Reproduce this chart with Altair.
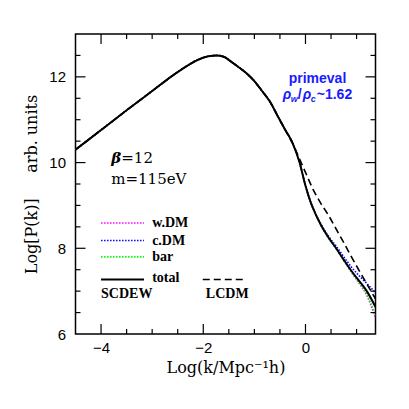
import altair as alt
import pandas as pd

# ---- data ----
k_grid = [-4.5, -4.0, -3.5, -3.0, -2.6, -2.3, -2.1, -1.9, -1.75, -1.6, -1.45, -1.3,
          -1.15, -1.0, -0.85, -0.7, -0.55, -0.4, -0.25, -0.12, 0.0, 0.1, 0.2, 0.3,
          0.45, 0.6, 0.75, 0.9, 1.05, 1.2, 1.37]
p_total = [10.30, 10.76, 11.22, 11.67, 12.03, 12.27, 12.40, 12.48, 12.50, 12.47, 12.35, 12.22,
           12.08, 11.90, 11.67, 11.43, 11.10, 10.77, 10.45, 10.02, 9.46, 9.08, 8.79, 8.55,
           8.25, 8.00, 7.73, 7.47, 7.24, 7.00, 6.63]
p_cdm = [10.30, 10.76, 11.22, 11.67, 12.03, 12.27, 12.40, 12.48, 12.50, 12.47, 12.35, 12.22,
         12.08, 11.90, 11.67, 11.43, 11.10, 10.77, 10.45, 10.02, 9.46, 9.08, 8.80, 8.57,
         8.28, 8.05, 7.80, 7.56, 7.36, 7.18, 6.96]
p_wdm = [10.30, 10.76, 11.22, 11.67, 12.03, 12.27, 12.40, 12.48, 12.50, 12.47, 12.35, 12.22,
         12.08, 11.90, 11.67, 11.43, 11.10, 10.77, 10.45, 10.02, 9.46, 9.08, 8.79, 8.54,
         8.24, 7.99, 7.71, 7.44, 7.18, 6.90, 6.37]
p_bar = [10.30, 10.76, 11.22, 11.67, 12.03, 12.27, 12.40, 12.48, 12.50, 12.47, 12.35, 12.22,
         12.08, 11.90, 11.67, 11.43, 11.10, 10.77, 10.45, 10.02, 9.46, 9.08, 8.79, 8.54,
         8.24, 7.99, 7.72, 7.45, 7.20, 6.93, 6.44]
k_lcdm = [-4.5, -4.0, -3.5, -3.0, -2.6, -2.3, -2.1, -1.9, -1.75, -1.6, -1.45, -1.3,
          -1.15, -1.0, -0.85, -0.7, -0.55, -0.4, -0.25, -0.1, 0.0, 0.15, 0.3, 0.45,
          0.6, 0.75, 0.9, 1.05, 1.2, 1.37]
p_lcdm = [10.30, 10.76, 11.22, 11.67, 12.03, 12.27, 12.40, 12.48, 12.50, 12.47, 12.35, 12.22,
          12.08, 11.90, 11.67, 11.43, 11.10, 10.77, 10.44, 10.04, 9.77, 9.37, 9.05, 8.77,
          8.45, 8.13, 7.80, 7.48, 7.17, 6.82]

x_major = [-4, -2, 0]
x_minor = [-3.5, -3, -2.5, -1.5, -1, -0.5, 0.5, 1.0]
y_major = [8, 10, 12]
y_minor = [6.5, 7, 7.5, 8.5, 9, 9.5, 10.5, 11, 11.5, 12.5]
x_labels = [-4, -2, 0]
y_labels = [6, 8, 10, 12]

legend_names = ["w.DM", "c.DM", "bar"]
legend_colors = ["#ff00ff", "#0000ff", "#00ff00"]
legend_y = [8.59, 8.18, 7.80]
legend_total_y = 7.27
legend_x = [-4.0, -3.16]
legend_text_x = -3.0
lcdm_legend_x = [-2.01, -1.16]

X_DOM = [-4.5, 1.37]
Y_DOM = [6, 13]
W, H = 300, 300

xsc = alt.Scale(domain=X_DOM, nice=False, zero=False)
ysc = alt.Scale(domain=Y_DOM, nice=False, zero=False)

XAX = alt.Axis(values=x_labels, ticks=False, tickSize=0, domain=False, grid=False,
               labelFont="Liberation Sans", labelFontSize=15, labelColor="black",
               labelPadding=6, format="d",
               title="Log(k/Mpc\u207b\u00b9h)", titleFont="DejaVu Serif", titleFontSize=16,
               titleFontWeight="normal", titleColor="black", titlePadding=4)
YAX = alt.Axis(values=y_labels, ticks=False, tickSize=0, domain=False, grid=False,
               labelFont="Liberation Sans", labelFontSize=15, labelColor="black",
               labelPadding=10, format="d",
               title="Log[P(k)]\u00a0\u00a0\u00a0\u00a0\u00a0arb. units", titleFont="DejaVu Serif",
               titleFontSize=16, titleFontWeight="normal", titleColor="black", titlePadding=9)


def X(f):
    return alt.X(f + ":Q", scale=xsc, axis=XAX)


def Y(f):
    return alt.Y(f + ":Q", scale=ysc, axis=YAX)


def curve(k, p, color, width, dash=None):
    df = pd.DataFrame({"k": k, "p": p})
    kw = dict(color=color, strokeWidth=width, clip=True, interpolate="monotone")
    if dash:
        kw["strokeDash"] = dash
    return alt.Chart(df).mark_line(**kw).encode(x=X("k"), y=Y("p"))


def text(x, y, t, **kw):
    df = pd.DataFrame({"x": [x], "y": [y], "t": [t]})
    base = dict(align="left", baseline="alphabetic", color="black")
    base.update(kw)
    return alt.Chart(df).mark_text(**base).encode(x=X("x"), y=Y("y"), text="t:N")


layers = []
DOT = [1.5, 1.5]
layers.append(curve(k_grid, p_wdm, legend_colors[0], 1.6, DOT))
layers.append(curve(k_grid, p_cdm, legend_colors[1], 1.6, DOT))
layers.append(curve(k_grid, p_bar, legend_colors[2], 1.6, DOT))
layers.append(curve(k_lcdm, p_lcdm, "black", 1.6, [7, 4]))
layers.append(curve(k_grid, p_total, "black", 2.0))

# legend
LEG_FONT = dict(font="Liberation Serif", fontSize=14, fontWeight="bold")
for name, col, yy in zip(legend_names, legend_colors, legend_y):
    layers.append(curve(legend_x, [yy, yy], col, 1.6, DOT))
    layers.append(text(legend_text_x, yy - 0.1, name, **LEG_FONT))
layers.append(curve(legend_x, [legend_total_y, legend_total_y], "black", 2.0))
layers.append(text(legend_text_x, legend_total_y - 0.05, "total", **LEG_FONT))
layers.append(curve(lcdm_legend_x, [legend_total_y, legend_total_y], "black", 1.6, [7, 4]))
layers.append(text(-4.0, 6.83, "SCDEW", **LEG_FONT))
layers.append(text(-1.95, 6.83, "LCDM", **LEG_FONT))

# annotations
layers.append(text(-3.80, 10.0, "\u03b2", font="DejaVu Serif", fontSize=15, fontStyle="italic", fontWeight="bold"))
layers.append(text(-3.80, 10.0, "=12", font="DejaVu Serif", fontSize=15, dx=10))
layers.append(text(-3.80, 9.51, "m=115eV", font="DejaVu Serif", fontSize=15))

BLUE = "#1a1aff"
PF = dict(font="Liberation Sans", fontWeight="bold", color=BLUE)
layers.append(text(0.235, 11.86, "primeval", align="center", fontSize=14, **PF))
layers.append(text(-0.445, 11.49, "\u03c1", fontSize=14, fontStyle="italic", **PF))
layers.append(text(-0.445, 11.49, "w", fontSize=9, dx=8, dy=3, fontStyle="italic", **PF))
layers.append(text(-0.445, 11.49, "/", fontSize=14, dx=15, **PF))
layers.append(text(-0.445, 11.49, "\u03c1", fontSize=14, dx=20, fontStyle="italic", **PF))
layers.append(text(-0.445, 11.49, "c", fontSize=9, dx=28, dy=3, fontStyle="italic", **PF))
layers.append(text(-0.445, 11.49, "~1.62", fontSize=14, dx=34, **PF))

# inward ticks on all four sides
def xticks(vals, length):
    df = pd.DataFrame({"v": vals})
    b = alt.Chart(df).mark_rule(color="black", strokeWidth=1.2)
    return [b.encode(x=X("v"), y=alt.value(H), y2=alt.value(H - length)),
            b.encode(x=X("v"), y=alt.value(0), y2=alt.value(length))]


def yticks(vals, length):
    df = pd.DataFrame({"v": vals})
    b = alt.Chart(df).mark_rule(color="black", strokeWidth=1.2)
    return [b.encode(y=Y("v"), x=alt.value(0), x2=alt.value(length)),
            b.encode(y=Y("v"), x=alt.value(W), x2=alt.value(W - length))]


layers += xticks(x_major, 10) + xticks(x_minor, 5) + yticks(y_major, 10) + yticks(y_minor, 5)

chart = alt.layer(*layers).properties(
    width=W, height=H,
    padding={"left": 67.5, "top": 26, "right": 20, "bottom": 60},
    autosize=alt.AutoSizeParams(type="none"),
    background="white",
).configure_view(stroke="black", strokeWidth=1.5)

chart.save("out.html", embed_options={"renderer": "svg", "actions": False})
